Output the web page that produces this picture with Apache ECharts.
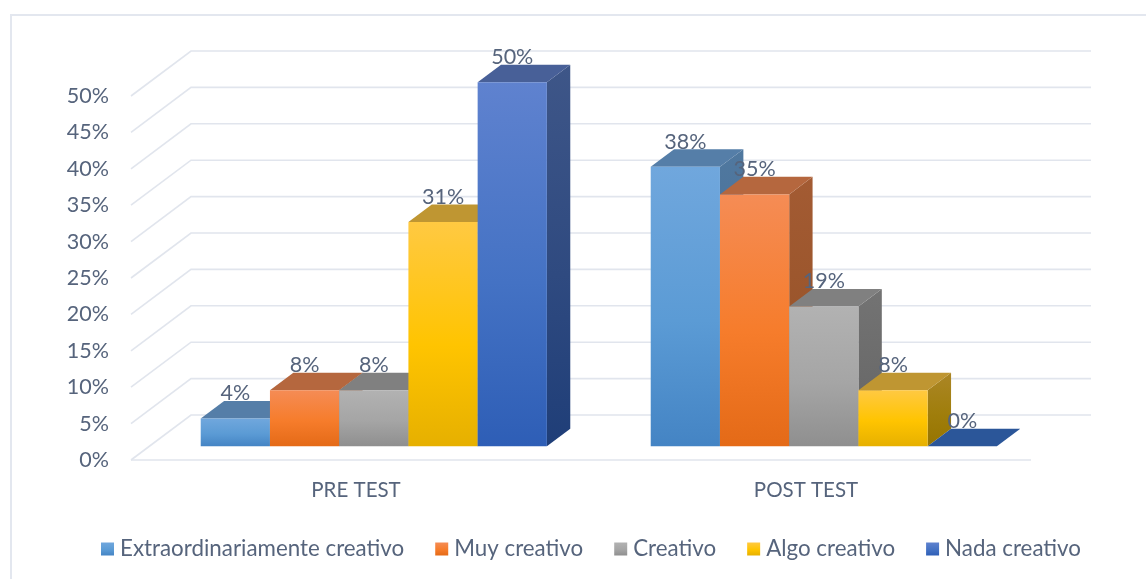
<!DOCTYPE html>
<html>
<head>
<meta charset="utf-8">
<style>html,body{margin:0;padding:0;background:#fff}#c{width:1146px;height:579px}</style>
<script src="https://cdn.jsdelivr.net/npm/echarts@6/dist/echarts.min.js"></script>
</head>
<body>
<div id="c"></div>
<script>
const categories = ['PRE TEST', 'POST TEST'];
const seriesNames = ['Extraordinariamente creativo', 'Muy creativo', 'Creativo', 'Algo creativo', 'Nada creativo'];
const extraordinario = [3.8, 38.4];
const muyCreativo = [7.7, 34.6];
const creativo = [7.7, 19.2];
const algoCreativo = [30.8, 7.7];
const nadaCreativo = [50, 0];
const seriesValues = [extraordinario, muyCreativo, creativo, algoCreativo, nadaCreativo];
const ticks = [0, 5, 10, 15, 20, 25, 30, 35, 40, 45, 50];

const FONT = 'Lato';
const TEXT = '#56647c';
const LINE = '#e1e5ed';
const WALL_DX = 60, WALL_DY = 45;
const BAR_START = 0.305, BAR_DEPTH = 0.39;
const GAP_RATIO = 1.5;

const grad = (a, b, c) => new echarts.graphic.LinearGradient(0, 0, 0, 1, [
  { offset: 0, color: a }, { offset: 0.55, color: b }, { offset: 1, color: c }]);

const palette = [
  { front: ['#70a7dd', '#5b9bd5', '#4484c4'], top: '#557ea8', side: ['#50789f', '#47709a', '#3e6690'] },
  { front: ['#f58c55', '#f67c2b', '#e46a17'], top: '#b5673e', side: ['#a35b33', '#9a552b', '#8f4d22'] },
  { front: ['#b2b2b2', '#a5a5a5', '#8f8f8f'], top: '#808080', side: ['#737373', '#6b6b6b', '#636363'] },
  { front: ['#ffc942', '#ffc400', '#e6b000'], top: '#bf9632', side: ['#ab8626', '#a07e0c', '#967400'] },
  { front: ['#5f82cf', '#4472c4', '#2e5eb6'], top: '#486098', side: ['#3e5688', '#2f4a80', '#1f3e78'] }
];

function wallItem(params, api) {
  const x = params.coordSys.x, w = params.coordSys.width;
  const t = api.value(1);
  const y = api.coord([0, t])[1];
  const pts = [[x, y], [x + WALL_DX, y - WALL_DY], [x + WALL_DX + w, y - WALL_DY]];
  const style = { fill: 'none', stroke: LINE, lineWidth: 1.6 };
  const children = [{ type: 'polyline', shape: { points: pts }, style }];
  if (t === 0) {
    children.push({ type: 'line', shape: { x1: x, y1: y, x2: x + w, y2: y }, style: { stroke: LINE, lineWidth: 1.6 } });
  }
  return { type: 'group', children };
}

function barItem(idx) {
  return function (params, api) {
    const cat = api.value(0), val = api.value(1);
    const catW = api.size([1, 0])[0];
    const bw = catW / (seriesNames.length + GAP_RATIO);
    const base = api.coord([cat, 0]);
    const top = api.coord([cat, val]);
    const ox = WALL_DX * BAR_START, oy = -WALL_DY * BAR_START;
    const dx = WALL_DX * BAR_DEPTH, dy = -WALL_DY * BAR_DEPTH;
    const x0 = base[0] + ox + (idx - seriesNames.length / 2) * bw - 0.5;
    const x1 = x0 + bw;
    const yb = base[1] + oy, yt = top[1] + oy;
    const p = palette[idx];
    const children = [];
    if (val > 0) {
      children.push({ type: 'polygon', z2: 1,
        shape: { points: [[x1, yb], [x1 + dx, yb + dy], [x1 + dx, yt + dy], [x1, yt]] },
        style: { fill: grad.apply(null, p.side) } });
    }
    children.push({ type: 'polygon', z2: 2,
      shape: { points: [[x0, yt], [x1, yt], [x1 + dx, yt + dy], [x0 + dx, yt + dy]] },
      style: { fill: val > 0 ? p.top : '#2b5699' } });
    if (val > 0) {
      children.push({ type: 'rect', z2: 3,
        shape: { x: x0, y: yt, width: bw, height: yb - yt },
        style: { fill: grad.apply(null, p.front) } });
    }
    children.push({ type: 'text', z2: 100,
      style: { text: Math.round(val) + '%', x: (x0 + x1) / 2, y: yt + dy + 3.5,
        align: 'center', verticalAlign: 'bottom',
        fill: TEXT, font: '21.5px ' + FONT } });
    return { type: 'group', children };
  };
}

const chart = echarts.init(document.getElementById('c'), null, { renderer: 'canvas' });
chart.setOption({
  animation: false,
  backgroundColor: '#ffffff',
  textStyle: { fontFamily: FONT },
  graphic: [{ type: 'polyline', silent: true,
    shape: { points: [[11, 579], [11, 15], [1146, 15]] },
    style: { fill: 'none', stroke: '#e3e7ef', lineWidth: 2 } }],
  grid: { left: 131, right: 115, top: 96, bottom: 119, containLabel: false },
  legend: {
    left: 101, top: 538, padding: 0, icon: 'rect', itemWidth: 13, itemHeight: 13, itemGap: 31,
    selectedMode: false,
    textStyle: { color: TEXT, fontSize: 22.35, fontFamily: FONT, padding: [0, 0, 0, 1] },
    data: seriesNames.map((n, i) => ({ name: n, icon: 'rect',
      itemStyle: { color: grad.apply(null, palette[i].front) } }))
  },
  xAxis: {
    type: 'category', data: categories,
    axisLine: { show: false }, axisTick: { show: false }, splitLine: { show: false },
    axisLabel: { color: TEXT, fontSize: 20.5, fontFamily: FONT, margin: 20 }
  },
  yAxis: {
    type: 'value', min: 0, max: 50, interval: 5,
    axisLine: { show: false }, axisTick: { show: false }, splitLine: { show: false },
    axisLabel: { color: TEXT, fontSize: 21.5, fontFamily: FONT, margin: 22, padding: [8, 0, 0, 0], formatter: '{value}%' }
  },
  series: [
    { type: 'custom', name: 'walls', silent: true, clip: false, renderItem: wallItem,
      encode: { x: 0, y: 1 }, data: ticks.map(t => [0, t]) }
  ].concat(seriesNames.map((n, i) => ({
    type: 'custom', name: n, silent: true, clip: false, renderItem: barItem(i),
    encode: { x: 0, y: 1 },
    data: seriesValues[i].map((v, c) => [c, v])
  })))
});
</script>
</body>
</html>
